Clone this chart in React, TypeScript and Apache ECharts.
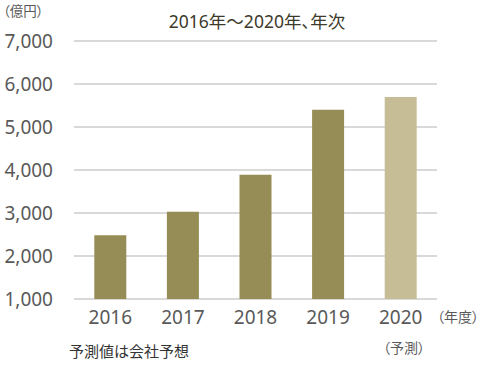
import React, { useEffect, useRef } from "react";
import * as echarts from "echarts";

const categories = ["2016", "2017", "2018", "2019", "2020"];
const values = [2480, 3030, 3890, 5400, 5700];
const barColors = ["#968c55", "#968c55", "#968c55", "#968c55", "#c6bd97"];
const titleText = "2016年～2020年、年次";
const unitText = "（億円）";
const xUnitText = "（年度）";
const forecastText = "（予測）";
const noteText = "予測値は会社予想";

const FONT = "'Noto Sans', 'Noto Sans CJK JP', sans-serif";

export default function App() {
  const ref = useRef<HTMLDivElement>(null);
  useEffect(() => {
    if (!ref.current) return;
    const chart = echarts.init(ref.current, null, { renderer: "svg" });
    chart.setOption({
      animation: false,
      textStyle: { fontFamily: FONT },
      title: {
        text: titleText,
        left: 252,
        top: 7,
        textAlign: "center",
        textStyle: { fontSize: 17.5, fontWeight: "normal", color: "#3d3a2b", fontFamily: FONT },
      },
      grid: { left: 74, right: 49, top: 41, bottom: 72, containLabel: false },
      xAxis: {
        type: "category",
        data: categories,
        axisLine: { show: false },
        axisTick: { show: false },
        axisLabel: { fontSize: 19, color: "#595959", margin: 8, fontFamily: FONT },
      },
      yAxis: {
        type: "value",
        min: 1000,
        max: 7000,
        interval: 1000,
        axisLine: { show: false },
        axisTick: { show: false },
        splitLine: { lineStyle: { color: "#d9d9d9", width: 2 } },
        axisLabel: {
          fontSize: 19,
          color: "#595959",
          margin: 21,
          fontFamily: FONT,
          formatter: (v: number) => v.toLocaleString("en-US"),
        },
      },
      series: [
        {
          type: "bar",
          barWidth: 32,
          data: values.map((v, i) => ({ value: v, itemStyle: { color: barColors[i] } })),
        },
      ],
      graphic: [
        { type: "text", left: 3, top: 4, style: { text: unitText, fontSize: 13.5, fill: "#595959", fontFamily: FONT } },
        { type: "text", left: 437, top: 309, style: { text: xUnitText, fontSize: 14, fill: "#595959", fontFamily: FONT } },
        { type: "text", left: 383, top: 340, style: { text: forecastText, fontSize: 14, fill: "#595959", fontFamily: FONT } },
        { type: "text", left: 69, top: 343, style: { text: noteText, fontSize: 15, fill: "#333", fontFamily: FONT } },
      ],
    });
    return () => chart.dispose();
  }, []);
  return (
    <>
      <style>{`#root text { font-feature-settings: "palt"; }`}</style>
      <div ref={ref} style={{ width: 486, height: 371, position: "absolute", left: 0, top: 0 }} />
    </>
  );
}
